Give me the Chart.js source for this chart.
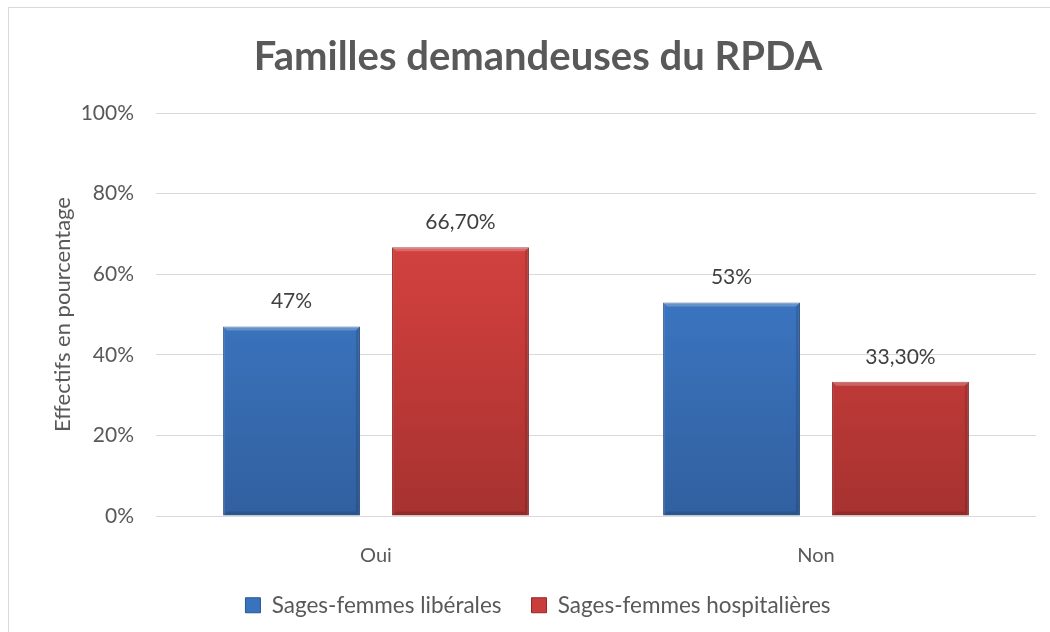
<!DOCTYPE html>
<html>
<head>
<meta charset="utf-8">
<script src="https://cdn.jsdelivr.net/npm/chart.js@4.4.1/dist/chart.umd.min.js"></script>
<style>
  html, body { margin: 0; padding: 0; background: #fff; }
  #wrap { position: relative; width: 1050px; height: 632px; overflow: hidden; }
  #frame { position: absolute; left: 8px; top: 7px; width: 1100px; height: 700px; border: 1px solid #d9d9d9; box-sizing: border-box; }
  canvas { position: absolute; left: 0; top: 0; }
</style>
</head>
<body>
<div id="wrap">
  <div id="frame"></div>
  <canvas id="chart" width="1050" height="632"></canvas>
</div>
<script>
// données
const categories = ['Oui', 'Non'];
const seriesNames = ['Sages-femmes libérales', 'Sages-femmes hospitalières'];
const liberalValues = [47, 53];
const hospitalValues = [66.7, 33.3];
const liberalLabels = ['47%', '53%'];
const hospitalLabels = ['66,70%', '33,30%'];
const yTickValues = [0, 20, 40, 60, 80, 100];

const FONT = 'Lato, "Open Sans", sans-serif';
const blueStops = ['#4d8ad8', '#3a73bd', '#31609f'];
const redStops = ['#df4a47', '#c93d3b', '#a63230'];

function barGradient(stops) {
    return function(context) {
        const chart = context.chart;
        const area = chart.chartArea;
        if (!area) return stops[1];
        const g = chart.ctx.createLinearGradient(0, area.top, 0, area.bottom);
        g.addColorStop(0, stops[0]);
        g.addColorStop(0.5, stops[1]);
        g.addColorStop(1, stops[2]);
        return g;
    };
}

// étiquettes au-dessus des barres
const valueLabels = {
    id: 'valueLabels',
    afterDatasetsDraw(chart) {
        const ctx = chart.ctx;
        const texts = [liberalLabels, hospitalLabels];
        ctx.save();
        ctx.font = '21px ' + FONT;
        ctx.fillStyle = '#404040';
        ctx.textAlign = 'center';
        ctx.textBaseline = 'middle';
        chart.data.datasets.forEach((ds, i) => {
            chart.getDatasetMeta(i).data.forEach((bar, j) => {
                ctx.fillText(texts[i][j], bar.x, bar.y - 25);
            });
        });
        ctx.restore();
    }
};

// petit effet de biseau sur les barres
const bevel = {
    id: 'bevel',
    afterDatasetsDraw(chart) {
        const ctx = chart.ctx;
        ctx.save();
        chart.data.datasets.forEach((ds, i) => {
            chart.getDatasetMeta(i).data.forEach(bar => {
                const l = bar.x - bar.width / 2, r = bar.x + bar.width / 2;
                const t = bar.y, b = bar.base, d = 4;
                ctx.fillStyle = 'rgba(255,255,255,0.22)';
                ctx.beginPath();
                ctx.moveTo(l, t); ctx.lineTo(r, t); ctx.lineTo(r - d, t + d); ctx.lineTo(l + d, t + d);
                ctx.closePath(); ctx.fill();
                ctx.fillStyle = 'rgba(0,0,0,0.12)';
                ctx.beginPath();
                ctx.moveTo(r, t); ctx.lineTo(r, b); ctx.lineTo(r - d, b - d); ctx.lineTo(r - d, t + d);
                ctx.closePath(); ctx.fill();
                ctx.beginPath();
                ctx.moveTo(l, b); ctx.lineTo(r, b); ctx.lineTo(r - d, b - d); ctx.lineTo(l + d, b - d);
                ctx.closePath(); ctx.fill();
            });
        });
        ctx.restore();
    }
};

new Chart(document.getElementById('chart'), {
    type: 'bar',
    data: {
        labels: categories,
        datasets: [{
            label: seriesNames[0],
            data: liberalValues,
            backgroundColor: barGradient(blueStops),
            borderColor: '#2b558e',
            borderWidth: 1,
            barPercentage: 0.81,
            categoryPercentage: 0.768
        }, {
            label: seriesNames[1],
            data: hospitalValues,
            backgroundColor: barGradient(redStops),
            borderColor: '#8e2a28',
            borderWidth: 1,
            barPercentage: 0.81,
            categoryPercentage: 0.768
        }]
    },
    options: {
        responsive: false,
        animation: false,
        layout: { padding: { left: 40, right: 14, top: 0, bottom: 5.5 } },
        scales: {
            x: {
                grid: { display: false },
                border: { display: false },
                ticks: { color: '#595959', font: { family: FONT, size: 20 }, padding: 20 },
                afterFit(scale) { scale.height = 48; }
            },
            y: {
                min: 0,
                max: 100,
                afterBuildTicks(scale) { scale.ticks = yTickValues.map(v => ({ value: v })); },
                grid: { color: '#d9d9d9', lineWidth: 1, drawTicks: false },
                border: { display: false },
                ticks: {
                    color: '#595959',
                    font: { family: FONT, size: 21 },
                    padding: 22,
                    callback: v => v + '%'
                },
                title: {
                    display: true,
                    text: 'Effectifs en pourcentage',
                    color: '#595959',
                    font: { family: FONT, size: 22 },
                    padding: { top: 10, bottom: 0 }
                },
                afterFit(scale) { scale.width = 116; }
            }
        },
        plugins: {
            title: {
                display: true,
                text: 'Familles demandeuses du RPDA',
                color: '#595959',
                font: { family: FONT, size: 40, weight: 'bold' },
                padding: { top: 33, bottom: 32 }
            },
            legend: {
                position: 'bottom',
                labels: {
                    color: '#595959',
                    font: { family: FONT, size: 22.5 },
                    boxWidth: 15,
                    boxHeight: 15,
                    padding: 30,
                    generateLabels(chart) {
                        return chart.data.datasets.map((ds, i) => ({
                            text: ds.label,
                            fillStyle: i === 0 ? blueStops[1] : redStops[1],
                            strokeStyle: ds.borderColor,
                            lineWidth: 1,
                            fontColor: '#595959',
                            datasetIndex: i
                        }));
                    }
                }
            },
            tooltip: { enabled: false }
        }
    },
    plugins: [valueLabels, bevel]
});
</script>
</body>
</html>
